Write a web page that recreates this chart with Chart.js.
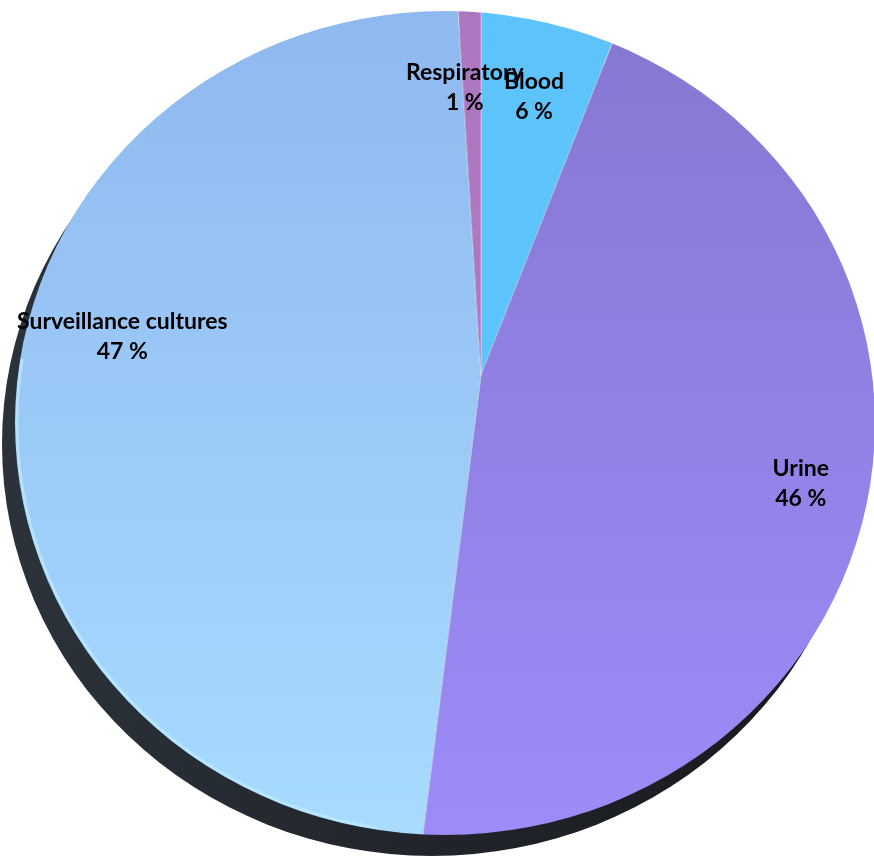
<!DOCTYPE html>
<html>
<head>
<meta charset="utf-8">
<script src="https://cdn.jsdelivr.net/npm/chart.js@4.4.1/dist/chart.umd.min.js"></script>
<style>
  html, body { margin: 0; padding: 0; background: #fff; overflow: hidden; width: 874px; height: 856px; position: relative; }
  #specimenChart { display: block; position: absolute; left: -69px; top: -175px; }
</style>
</head>
<body>
<canvas id="specimenChart" width="1100" height="1100"></canvas>
<script>
// specimen types, clockwise from 12 o'clock
const labels = ['Blood', 'Urine', 'Surveillance cultures', 'Respiratory'];
const shares = [6, 46, 47, 1];
// top and bottom colour of each slice's vertical gradient
const topColors = ['#5ec3fb', '#8677d0', '#8fb8ef', '#ad77bf'];
const bottomColors = ['#5ac8fd', '#9d8bf9', '#a8dbff', '#b07cc4'];

// tilted disc outline, relative to the pie's hub (the disc is seen slightly from above)
const disc = { dx: -36, dy: 48, rx: 430, ry: 412 };

function sliceFill(context) {
    const chart = context.chart;
    const area = chart.chartArea;
    if (!area) return topColors[context.dataIndex];
    const cy = (area.top + area.bottom) / 2 + disc.dy;
    const g = chart.ctx.createLinearGradient(0, cy - disc.ry, 0, cy + disc.ry);
    g.addColorStop(0, topColors[context.dataIndex]);
    g.addColorStop(1, bottomColors[context.dataIndex]);
    return g;
}

// distance from the hub to the disc edge along a canvas angle
function edgeDistance(hx, hy, ang) {
    const ex = hx + disc.dx, ey = hy + disc.dy;
    const ux = Math.cos(ang), uy = Math.sin(ang);
    const px = hx - ex, py = hy - ey;
    const a = ux * ux / (disc.rx * disc.rx) + uy * uy / (disc.ry * disc.ry);
    const b = 2 * (px * ux / (disc.rx * disc.rx) + py * uy / (disc.ry * disc.ry));
    const c = px * px / (disc.rx * disc.rx) + py * py / (disc.ry * disc.ry) - 1;
    return (-b + Math.sqrt(b * b - 4 * a * c)) / (2 * a);
}

const discPlugin = {
    id: 'disc',
    beforeDatasetsDraw(chart) {
        const arc = chart.getDatasetMeta(0).data[0];
        const ctx = chart.ctx;
        const ex = arc.x + disc.dx, ey = arc.y + disc.dy;
        ctx.save();
        // dark base under the disc
        const sg = ctx.createLinearGradient(ex - disc.rx, 0, ex + disc.rx, 0);
        sg.addColorStop(0, '#2b323a');
        sg.addColorStop(1, '#16171b');
        ctx.fillStyle = sg;
        ctx.beginPath();
        ctx.ellipse(ex - 13, ey + 21, disc.rx, disc.ry, 0, 0, Math.PI * 2);
        ctx.fill();
        // slices only show inside the disc outline
        ctx.beginPath();
        ctx.ellipse(ex, ey, disc.rx, disc.ry, 0, 0, Math.PI * 2);
        ctx.clip();
    },
    afterDatasetsDraw(chart) {
        const arc = chart.getDatasetMeta(0).data[0];
        const ctx = chart.ctx;
        const ex = arc.x + disc.dx, ey = arc.y + disc.dy;
        // pale rim on the lower left edge
        ctx.strokeStyle = 'rgba(190, 235, 255, 0.7)';
        ctx.lineWidth = 3;
        ctx.beginPath();
        ctx.ellipse(ex, ey, disc.rx - 2, disc.ry - 2, 0, Math.PI * 0.55, Math.PI * 1.05);
        ctx.stroke();
        ctx.restore();
    }
};

const labelPlugin = {
    id: 'sliceLabels',
    afterDraw(chart) {
        const ctx = chart.ctx;
        const arcs = chart.getDatasetMeta(0).data;
        ctx.save();
        ctx.fillStyle = '#000';
        ctx.font = 'bold 23px Lato, "Open Sans", sans-serif';
        ctx.textAlign = 'center';
        ctx.textBaseline = 'middle';
        arcs.forEach((a, i) => {
            let ang = (a.startAngle + a.endAngle) / 2;
            if (shares[i] < 3) ang -= 0.025;
            if (i === 1 || i === 2) ang += 0.075;
            const d = edgeDistance(a.x, a.y, ang) * (i === 1 ? 0.83 : 0.79);
            const x = a.x + Math.cos(ang) * d;
            const y = a.y + Math.sin(ang) * d;
            ctx.fillText(labels[i], x, y - 15);
            ctx.fillText(shares[i] + ' %', x, y + 15);
        });
        ctx.restore();
    }
};

new Chart(document.getElementById('specimenChart'), {
    type: 'pie',
    data: {
        labels: labels,
        datasets: [{
            data: shares,
            backgroundColor: sliceFill,
            borderColor: 'rgba(255,255,255,0.35)',
            borderWidth: 1
        }]
    },
    options: {
        responsive: false,
        animation: false,
        events: [],
        layout: { padding: 50 },
        plugins: {
            legend: { display: false },
            tooltip: { enabled: false }
        }
    },
    plugins: [discPlugin, labelPlugin]
});
</script>
</body>
</html>
